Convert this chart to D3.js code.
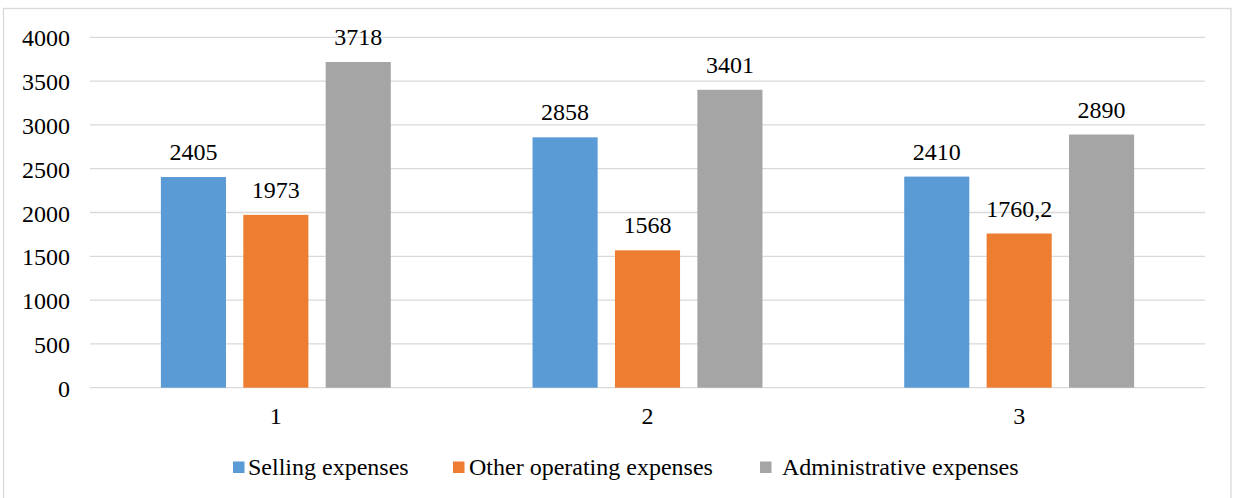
<!DOCTYPE html>
<html>
<head>
<meta charset="utf-8">
<script src="https://cdn.jsdelivr.net/npm/d3@7/dist/d3.min.js"></script>
<style>
  html, body { margin: 0; padding: 0; background: #fff; }
  svg { display: block; }
  svg text { font-family: 'Liberation Serif', 'Times New Roman', serif; }
</style>
</head>
<body>
<svg id="chart" width="1238" height="498"></svg>
<script>
// Expense data per period
const categories = ["1", "2", "3"];
const seriesNames = ["Selling expenses", "Other operating expenses", "Administrative expenses"];
const sellingExpenses = [2405, 2858, 2410];
const otherOperatingExpenses = [1973, 1568, 1760.2];
const administrativeExpenses = [3718, 3401, 2890];
const valueLabels = [
  ["2405", "2858", "2410"],
  ["1973", "1568", "1760,2"],
  ["3718", "3401", "2890"]
];
const yTicks = [0, 500, 1000, 1500, 2000, 2500, 3000, 3500, 4000];
const colors = ["#5b9bd5", "#ed7d31", "#a5a5a5"];

const seriesValues = [sellingExpenses, otherOperatingExpenses, administrativeExpenses];

const FONT = "'Liberation Serif', 'Times New Roman', serif";
const fontSize = 24;

const svg = d3.select("#chart");

// outer frame
svg.append("rect")
  .attr("x", 3.5).attr("y", 8.5)
  .attr("width", 1227.5).attr("height", 492)
  .attr("fill", "#fff").attr("stroke", "#d9d9d9").attr("stroke-width", 1.3);

const plot = { left: 90, right: 1205, top: 37.3, bottom: 387.7 };

const y = d3.scaleLinear().domain([0, 4000]).range([plot.bottom, plot.top]);
const x0 = d3.scaleBand().domain(categories).range([plot.left, plot.right]).padding(0);
const x1 = d3.scaleBand().domain(seriesNames).range([0, x0.bandwidth()])
  .paddingInner(0.21).paddingOuter(0.86);

// value axis labels
const yAxis = d3.axisLeft(y).tickValues(yTicks).tickSize(0).tickPadding(20)
  .tickFormat(d3.format("d"));
const gy = svg.append("g").attr("transform", `translate(${plot.left},0)`).call(yAxis);
gy.attr("font-family", null).attr("font-size", null);
gy.select(".domain").remove();
gy.selectAll("text")
  .style("font-family", FONT).style("font-size", fontSize + "px")
  .attr("fill", "#000")
  .attr("dy", "0.36em");

// horizontal gridlines
svg.append("g").selectAll("line").data(yTicks).join("line")
  .attr("x1", plot.left).attr("x2", plot.right)
  .attr("y1", d => y(d)).attr("y2", d => y(d))
  .attr("stroke", "#d9d9d9").attr("stroke-width", 1.3);

// bars with value labels
const groups = svg.append("g").selectAll("g").data(categories).join("g")
  .attr("transform", c => `translate(${x0(c)},0)`);

groups.each(function(c, ci) {
  const g = d3.select(this);
  seriesNames.forEach((s, si) => {
    const v = seriesValues[si][ci];
    g.append("rect")
      .attr("x", x1(s)).attr("width", x1.bandwidth())
      .attr("y", y(v)).attr("height", y(0) - y(v))
      .attr("fill", colors[si]);
    g.append("text")
      .attr("x", x1(s) + x1.bandwidth() / 2)
      .attr("y", y(v) - 17)
      .attr("text-anchor", "middle")
      .style("font-family", FONT).style("font-size", fontSize + "px")
      .attr("fill", "#000")
      .text(valueLabels[si][ci]);
  });
});

// category axis labels
const xAxis = d3.axisBottom(x0).tickSize(0).tickPadding(0);
const gx = svg.append("g").attr("transform", `translate(0,${plot.bottom})`).call(xAxis);
gx.attr("font-family", null).attr("font-size", null);
gx.select(".domain").remove();
gx.selectAll("text")
  .style("font-family", FONT).style("font-size", fontSize + "px")
  .attr("fill", "#000")
  .attr("dy", null).attr("y", 36);

// legend
const legendX = [233, 453, 760];
const legendTextX = [248, 469, 782];
const legend = svg.append("g");
seriesNames.forEach((s, i) => {
  legend.append("rect")
    .attr("x", legendX[i]).attr("y", 461.5)
    .attr("width", 11.5).attr("height", 11.5)
    .attr("fill", colors[i]);
  legend.append("text")
    .attr("x", legendTextX[i]).attr("y", 475)
    .style("font-family", FONT).style("font-size", fontSize + "px")
    .attr("fill", "#000")
    .text(s);
});
</script>
</body>
</html>
